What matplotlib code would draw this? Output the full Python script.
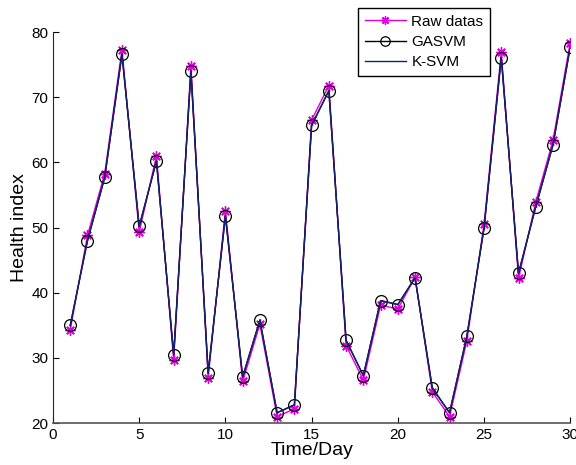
import matplotlib
matplotlib.use("Agg")
import matplotlib.pyplot as plt

plt.rcParams['font.family'] = ['Liberation Sans', 'DejaVu Sans']

days = list(range(1, 31))
raw_datas = [34.3, 48.8, 58.3, 77.3, 49.3, 61.0, 29.7, 74.8, 27.0, 52.6,
             26.4, 35.2, 21.0, 22.2, 66.5, 71.8, 31.9, 26.6, 38.1, 37.5,
             42.4, 24.8, 21.0, 32.6, 50.5, 76.9, 42.2, 53.9, 63.4, 78.4]
gasvm = [35.0, 48.0, 57.7, 76.6, 50.2, 60.2, 30.5, 74.0, 27.7, 51.8,
         27.1, 35.8, 21.6, 22.8, 65.7, 71.0, 32.7, 27.3, 38.8, 38.2,
         42.3, 25.4, 21.6, 33.3, 49.9, 76.1, 43.0, 53.2, 62.7, 77.7]
ksvm = [35.0, 48.0, 57.7, 76.6, 50.2, 60.2, 30.5, 74.0, 27.7, 51.8,
        27.1, 35.8, 21.6, 22.8, 65.7, 71.0, 32.7, 27.3, 38.8, 38.2,
        42.3, 25.4, 21.6, 33.3, 49.9, 76.1, 43.0, 53.2, 62.7, 77.7]
xticks = [0, 5, 10, 15, 20, 25, 30]
yticks = [20, 30, 40, 50, 60, 70, 80]

fig = plt.figure(figsize=(5.76, 4.65), dpi=100)
ax = fig.add_axes([0.092, 0.090, 0.898, 0.841])

l1, = ax.plot(days, raw_datas, color='#e000e0', lw=1.0, marker=(8, 2, 0), ms=7.5,
              mew=1.0, mec='#e000e0', mfc='#e000e0', label='Raw datas')
l2, = ax.plot(days, gasvm, color='black', lw=1.0, marker='o', ms=8.5,
              mfc='none', mec='black', mew=0.9, label='GASVM')
l3, = ax.plot(days, ksvm, color='#15236e', lw=1.0, label='K-SVM')

ax.set_xlim(0, 30)
ax.set_ylim(20, 80)
ax.set_xticks(xticks)
ax.set_yticks(yticks)
ax.tick_params(direction='in', length=4, labelsize=11, colors='black', width=0.8)
ax.spines['top'].set_visible(False)
ax.spines['right'].set_visible(False)
ax.spines['left'].set_color('#262626')
ax.spines['bottom'].set_color('#555555')
ax.spines['bottom'].set_linewidth(1.2)
ax.set_xlabel('Time/Day', fontsize=14, labelpad=0)
ax.set_ylabel('Health index', fontsize=14, labelpad=2)

leg = fig.legend(handles=[l1, l2, l3], loc='upper left',
                 bbox_to_anchor=(0.6215, 0.983), fontsize=11,
                 fancybox=False, framealpha=1, edgecolor='black',
                 handlelength=2.7, handletextpad=0.35, borderpad=0.45,
                 labelspacing=0.4, borderaxespad=0, markerscale=0.8)
leg.get_frame().set_linewidth(1.0)

fig.savefig('out.png', dpi=100)
